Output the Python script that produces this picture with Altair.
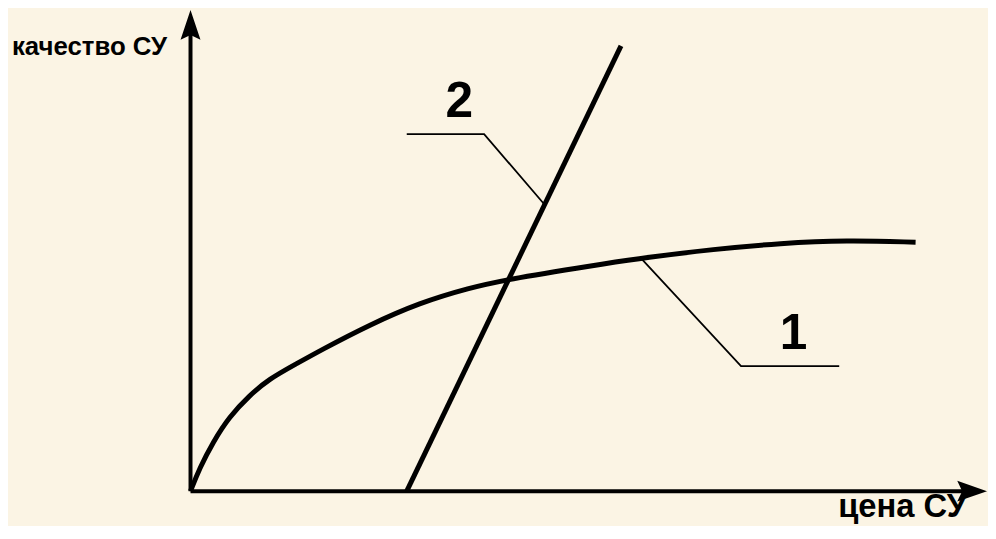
import altair as alt
import pandas as pd

# ---- data (diagram units: origin at the axes' corner) ----
curve1_x = [0, 9, 23, 39, 59, 79, 106, 131, 181, 231, 281, 321, 428, 455, 528, 595, 661, 731]
curve1_y = [0, 23, 50, 75, 96, 113, 128, 142, 168, 190, 205, 214, 231, 235, 244, 250, 253, 251]

line2_x = [218, 434]
line2_y = [0, 449]

leader2_x = [218, 296, 356]
leader2_y = [360, 360, 290]
leader1_x = [455, 555, 654]
leader1_y = [234, 126, 126]

yaxis_x = [0, 0]
yaxis_y = [0, 464]
xaxis_x = [0, 784]
xaxis_y = [0, 0]

arrow_up_pos = (0, 470)
arrow_right_pos = (788, 0)

label_texts = ["качество СУ", "цена СУ"]
label_x = [-180, 783]
label_y = [440, -26]
label_size = [26, 33]
label_align = ["left", "right"]

num_texts = ["2", "1"]
num_x = [271, 608]
num_y = [377, 143]

BG = "#FBF4E4"
FONT = "Liberation Sans, Arial"

xs = alt.Scale(domain=[-184, 804])
ys = alt.Scale(domain=[-33, 485])

def X():
    return alt.X("x:Q", scale=xs, axis=None)

def Y():
    return alt.Y("y:Q", scale=ys, axis=None)

curve_df = pd.DataFrame({"x": curve1_x, "y": curve1_y})
line2_df = pd.DataFrame({"x": line2_x, "y": line2_y})

lead_rows = []
for i, (xx, yy) in enumerate(zip(leader2_x, leader2_y)):
    lead_rows.append({"x": xx, "y": yy, "seg": "2", "ord": i})
for i, (xx, yy) in enumerate(zip(leader1_x, leader1_y)):
    lead_rows.append({"x": xx, "y": yy, "seg": "1", "ord": i})
lead_df = pd.DataFrame(lead_rows)

axes_rows = []
for i, (xx, yy) in enumerate(zip(yaxis_x, yaxis_y)):
    axes_rows.append({"x": xx, "y": yy, "ax": "y", "ord": i})
for i, (xx, yy) in enumerate(zip(xaxis_x, xaxis_y)):
    axes_rows.append({"x": xx, "y": yy, "ax": "x", "ord": i})
axes_df = pd.DataFrame(axes_rows)

up_df = pd.DataFrame({"x": [arrow_up_pos[0]], "y": [arrow_up_pos[1]]})
right_df = pd.DataFrame({"x": [arrow_right_pos[0]], "y": [arrow_right_pos[1]]})

num_df = pd.DataFrame({"x": num_x, "y": num_y, "t": num_texts})

axes = alt.Chart(axes_df).mark_line(color="black", strokeWidth=4, strokeCap="butt").encode(
    x=X(), y=Y(), detail="ax:N", order="ord:Q")

arrow_up = alt.Chart(up_df).mark_point(
    shape="M0,-1L0.67,1L0,0.67L-0.67,1Z", filled=True, size=900,
    color="black", opacity=1, strokeWidth=0).encode(x=X(), y=Y())

arrow_right = alt.Chart(right_df).mark_point(
    shape="M1,0L-1,0.7L-0.67,0L-1,-0.7Z", filled=True, size=900,
    color="black", opacity=1, strokeWidth=0).encode(x=X(), y=Y())

curve = alt.Chart(curve_df).mark_line(color="black", strokeWidth=5, interpolate="basis").encode(
    x=X(), y=Y())

line2 = alt.Chart(line2_df).mark_line(color="black", strokeWidth=5, strokeCap="butt").encode(
    x=X(), y=Y())

leaders = alt.Chart(lead_df).mark_line(color="black", strokeWidth=1.8).encode(
    x=X(), y=Y(), detail="seg:N", order="ord:Q")

label_layers = []
for t, xx, yy, sz, al in zip(label_texts, label_x, label_y, label_size, label_align):
    d = pd.DataFrame({"x": [xx], "y": [yy], "t": [t]})
    label_layers.append(
        alt.Chart(d).mark_text(
            align=al, baseline="alphabetic", font=FONT, fontSize=sz, fontWeight="bold",
            color="black").encode(x=X(), y=Y(), text="t:N"))

nums = alt.Chart(num_df).mark_text(
    align="center", baseline="alphabetic", font=FONT, fontSize=50,
    fontWeight="bold", color="black").encode(x=X(), y=Y(), text="t:N")

chart = alt.layer(axes, arrow_up, arrow_right, curve, line2, leaders, *label_layers, nums).properties(
    width=988, height=518, padding=0, autosize=alt.AutoSizeParams(type="none"),
    background=BG
).configure_view(stroke=None)

chart.save("out.html", embed_options={"renderer": "svg", "actions": False})
